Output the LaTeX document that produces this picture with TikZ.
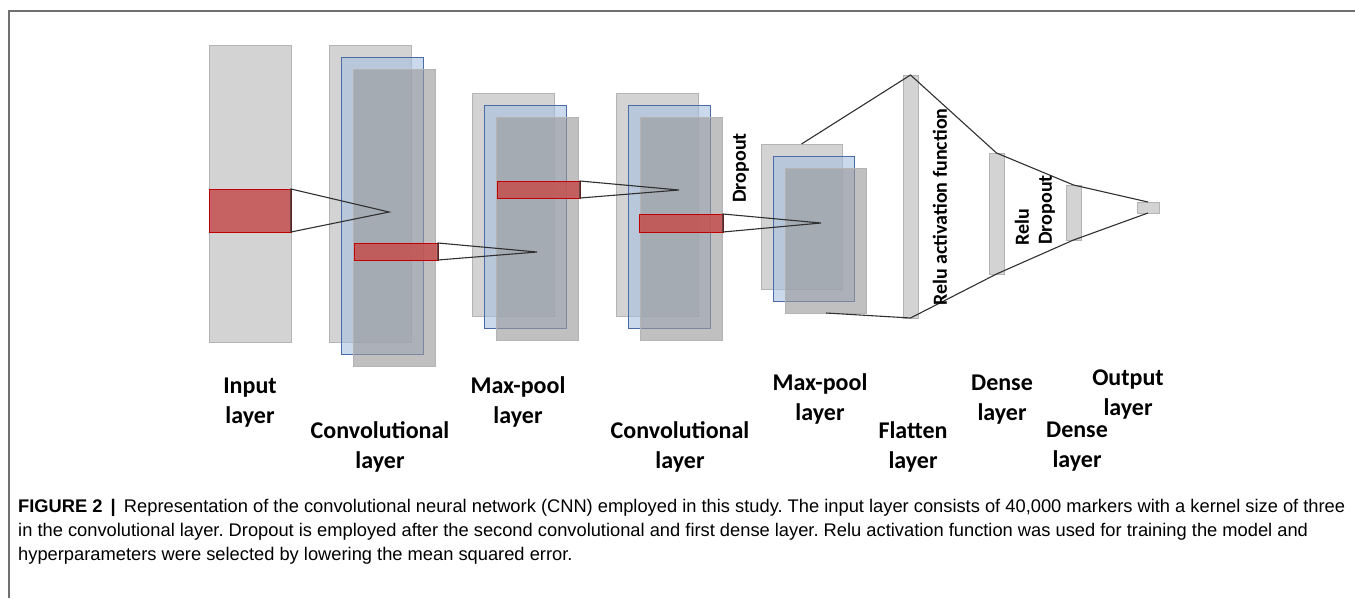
\documentclass[tikz,border=0pt]{standalone}
\usepackage{fontspec}
\setmainfont{Liberation Sans}
\newfontfamily\labelfont{Carlito}
\usetikzlibrary{calc}

\definecolor{lgray}{HTML}{D3D3D3}
\definecolor{rimgray}{HTML}{B4B4B4}
\definecolor{sheetblue}{HTML}{A8BFE0}
\definecolor{edgeblue}{HTML}{4A6AA8}
\definecolor{sheetgray}{HTML}{9A9A9A}
\definecolor{kernred}{HTML}{C4504F}
\definecolor{kernedge}{HTML}{C00000}
\definecolor{wire}{HTML}{303030}
\definecolor{framegray}{HTML}{707070}

\tikzset{
  box/.style={inner sep=0pt, outer sep=0pt, anchor=north west},
  backsheet/.style={box, draw=rimgray, fill=lgray, line width=0.8pt},
  bluesheet/.style={box, draw=edgeblue, line width=1pt, fill=sheetblue, fill opacity=0.6},
  frontsheet/.style={box, draw=rimgray, fill=sheetgray, fill opacity=0.62, line width=0.8pt},
  kernel/.style={box, draw=kernedge, fill=kernred, fill opacity=0.85, line width=1pt},
  bar/.style={inner sep=0pt, outer sep=0pt, draw=rimgray, fill=lgray, line width=0.8pt},
  wire/.style={draw=wire, line width=1.1pt, line join=miter},
  lbl/.style={inner sep=0pt, anchor=base, align=center,
    font=\labelfont\bfseries\fontsize{24}{30}\selectfont},
  vlbl/.style={inner sep=0pt, rotate=90,
    font=\labelfont\bfseries\fontsize{20}{24}\selectfont},
  captext/.style={inner sep=0pt, anchor=base west, font=\fontsize{18.3}{24}\selectfont}
}

% three overlapping feature-map sheets: name, left, top, width, height
\newcommand\layerstack[5]{%
  \node[backsheet, minimum width=#4, minimum height=#5] (#1b) at (#2,#3) {};
  \node[bluesheet, minimum width=#4, minimum height=#5] (#1m) at (#2+12,#3+12) {};
  \node[frontsheet, minimum width=#4, minimum height=#5] (#1f) at (#2+24.5,#3+24) {};
}

\begin{document}
\frenchspacing
\begin{tikzpicture}[x=1pt, y=-1pt]
\useasboundingbox (0,0) rectangle (1355,598);

% frame
\draw[framegray, line width=1.5pt] (9,598) -- (9,11) -- (1355,11);

% input layer
\node[backsheet, minimum width=82, minimum height=297] (in) at (209,45) {};

% convolution and pooling stacks
\layerstack{cA}{329}{45}{82}{297}
\layerstack{pA}{472}{93}{82}{223}
\layerstack{cB}{616}{93}{82}{223}
\layerstack{pB}{761}{144}{81}{145}

% fully connected part
\node[bar, minimum width=15, minimum height=243] (fl) at (910.5,196.5) {};
\node[bar, minimum width=15, minimum height=121] (d1) at (996.5,213.5) {};
\node[bar, minimum width=15, minimum height=55] (d2) at (1073.5,212.5) {};
\node[bar, minimum width=22, minimum height=11] (out) at (1148,207.5) {};

\draw[wire] (pBb.north) -- (fl.north) -- (d1.north) -- (d2.north) -- (out.north);
\draw[wire] (pBf.south) -- (fl.south) -- (d1.south) -- (d2.south) -- (out.south);

% kernels and receptive fields
\node[kernel, minimum width=82, minimum height=43] (kIn) at (209,189) {};
\node[kernel, minimum width=84, minimum height=17] (kcA) at (354,243) {};
\node[kernel, minimum width=83, minimum height=17] (kpA) at (497,181) {};
\node[kernel, minimum width=84, minimum height=18] (kcB) at (639,214) {};

\coordinate (tIn) at (389,212);
\coordinate (tcA) at (537,252);
\coordinate (tpA) at (679,190);
\coordinate (tcB) at (821,223);

\draw[wire] (kIn.north east) -- (tIn) -- (kIn.south east) -- cycle;
\draw[wire] (kcA.north east) -- (tcA) -- (kcA.south east) -- cycle;
\draw[wire] (kpA.north east) -- (tpA) -- (kpA.south east) -- cycle;
\draw[wire] (kcB.north east) -- (tcB) -- (kcB.south east) -- cycle;

% vertical annotations
\node[vlbl] (dropA) at (741,168) {Dropout};
\node[vlbl] (relA) at (940,207) {Relu activation function};
\node[vlbl] (relB) at (1022,227) {Relu};
\node[vlbl] (dropB) at (1047,210) {Dropout};

% layer names (anchored at the baseline of the second line)
\node[lbl] (nIn) at (250,423) {Input\\layer};
\node[lbl] (ncA) at (380,468) {Convolutional\\layer};
\node[lbl] (npA) at (518,423) {Max-pool\\layer};
\node[lbl] (ncB) at (680,468) {Convolutional\\layer};
\node[lbl] (npB) at (820,420) {Max-pool\\layer};
\node[lbl] (nfl) at (913,468) {Flatten\\layer};
\node[lbl] (nd1) at (1002,420) {Dense\\layer};
\node[lbl] (nout) at (1128,415) {Output\\layer};
\node[lbl] (nd2) at (1077,467) {Dense\\layer};

% caption
\node[captext] (capA) at (18,512) {\textbf{FIGURE 2 \,|\,} Representation of the convolutional neural network (CNN) employed in this study. The input layer consists of 40,000 markers with a kernel size of three};
\node[captext] (capB) at (18,536) {in the convolutional layer. Dropout is employed after the second convolutional and first dense layer. Relu activation function was used for training the model and};
\node[captext] (capC) at (18,560) {hyperparameters were selected by lowering the mean squared error.};
\end{tikzpicture}
\end{document}
